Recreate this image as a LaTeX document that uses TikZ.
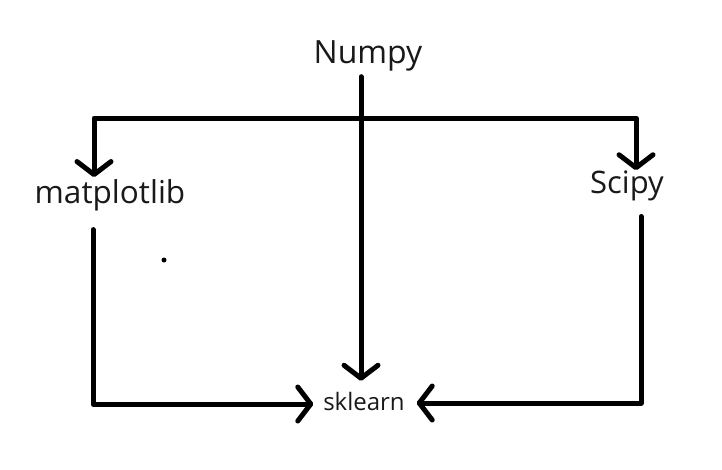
\documentclass[tikz,border=0pt]{standalone}
\usepackage{fontspec}
\setmainfont{Open Sans}
\usetikzlibrary{arrows.meta}
\tikzset{
  lbl/.style={inner sep=0pt, outer sep=0pt, text=black!90},
  conn/.style={line width=5pt, line cap=round, line join=round},
  tip/.style={-{Straight Barb[length=13pt,width=34pt,line cap=round,line join=round]}},
  bothtips/.style={{Straight Barb[length=13pt,width=34pt,line cap=round,line join=round]}-{Straight Barb[length=13pt,width=34pt,line cap=round,line join=round]}}
}
\begin{document}
\begin{tikzpicture}[x=1pt,y=-1pt]
\useasboundingbox[fill=white] (0,0) rectangle (722,469);
\node[lbl, anchor=base, font=\fontsize{32}{32}\selectfont] (numpy) at (368,63) {Numpy};
\node[lbl, anchor=base, font=\fontsize{31.5}{32}\selectfont] (mpl) at (110,203) {matplotlib};
\node[lbl, anchor=base, font=\fontsize{31}{31}\selectfont] (scipy) at (627,193) {Scipy};
\node[lbl, anchor=base, font=\fontsize{24}{24}\selectfont] (sk) at (364,410) {sklearn};
\coordinate (jn) at (361,118);
% Numpy to sklearn
\draw[conn, tip] (numpy.south -| jn) ++(0,6) -- ([yshift=11pt]sk.north -| jn);
% branch to matplotlib and Scipy
\draw[conn, bothtips] ([xshift=-16pt,yshift=2pt]mpl.north) |- (jn) -| ([xshift=9pt]scipy.north);
% matplotlib to sklearn
\draw[conn, tip] ([xshift=-17pt,yshift=-19pt]mpl.south) |- ([xshift=-10pt,yshift=6pt]sk.base west);
% Scipy to sklearn
\draw[conn, tip] ([xshift=14pt,yshift=-16pt]scipy.south) |- ([xshift=12pt,yshift=7pt]sk.base east);
% stray dot
\fill (164,260) circle (2.5);
\end{tikzpicture}
\end{document}
